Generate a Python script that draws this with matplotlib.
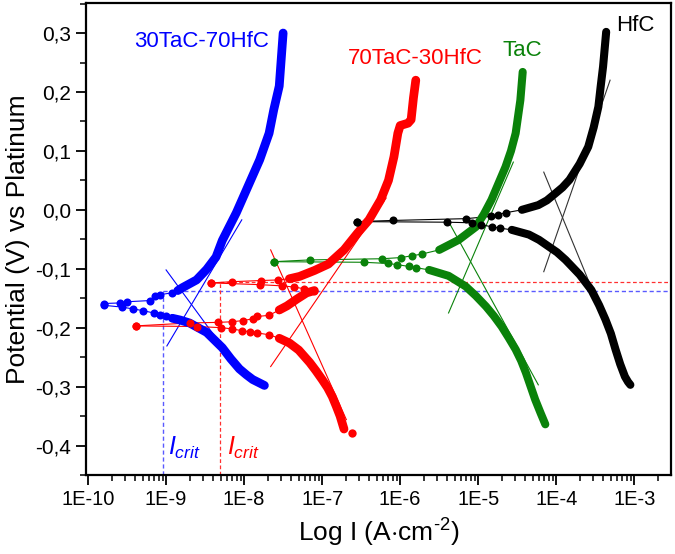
import numpy as np
import matplotlib
matplotlib.use("Agg")
import matplotlib.pyplot as plt
from matplotlib.ticker import FixedLocator, LogLocator, NullFormatter, FuncFormatter

plt.rcParams['font.family'] = ['Liberation Sans', 'DejaVu Sans']
plt.rcParams['mathtext.fontset'] = 'custom'
plt.rcParams['mathtext.rm'] = 'Liberation Sans'
plt.rcParams['mathtext.it'] = 'Liberation Sans:italic'

# ---------------- data (log10 of current density, potential in V) ----------------
# each branch starts at the corrosion point; first n points are sparse dots, rest dense
blue_an_logI = [-9.80, -9.59, -9.50, -9.21, -9.14, -9.08, -8.93, -8.85, -8.79, -8.61, -8.48, -8.36,
                -8.28, -8.10, -7.97, -7.80, -7.68, -7.62, -7.55, -7.50]
blue_an_V = [-0.159, -0.158, -0.156, -0.154, -0.147, -0.144, -0.141, -0.137, -0.132, -0.119, -0.101,
             -0.080, -0.052, -0.005, 0.034, 0.085, 0.130, 0.170, 0.210, 0.300]
blue_an_n = 7
blue_ca_logI = [-9.80, -9.57, -9.43, -9.30, -9.16, -9.08, -9.00, -8.92, -8.82, -8.70, -8.48, -8.28,
                -8.17, -8.06, -7.97, -7.89, -7.74]
blue_ca_V = [-0.162, -0.165, -0.168, -0.171, -0.175, -0.178, -0.181, -0.184, -0.187, -0.192, -0.208,
             -0.234, -0.253, -0.270, -0.280, -0.288, -0.298]
blue_ca_n = 7

red_ca_logI = [-9.39, -8.61, -8.29, -8.16, -8.03, -7.93, -7.83, -7.68, -7.55, -7.42, -7.30, -7.16,
               -7.08, -7.00, -6.93, -6.87, -6.82, -6.77, -6.72]
red_ca_V = [-0.197, -0.198, -0.200, -0.202, -0.205, -0.207, -0.209, -0.212, -0.218, -0.226, -0.238,
            -0.259, -0.273, -0.288, -0.302, -0.317, -0.333, -0.350, -0.372]
red_ca_n = 8
red_end_logI = [-6.62]
red_end_V = [-0.378]
red_an1_logI = [-9.39, -8.70, -8.34, -8.16, -8.02, -7.89, -7.83, -7.68, -7.55, -7.45, -7.33, -7.20, -7.10]
red_an1_V = [-0.197, -0.192, -0.191, -0.190, -0.188, -0.185, -0.181, -0.179, -0.170, -0.163, -0.152,
             -0.141, -0.137]
red_an1_n = 8
red_back_logI = [-7.10, -7.23, -7.36, -7.52, -7.80, -8.42]
red_back_V = [-0.137, -0.134, -0.131, -0.129, -0.127, -0.124]
red_an2_logI = [-8.42, -8.16, -7.79, -7.57, -7.42, -7.29, -7.10, -6.92, -6.72, -6.55, -6.40, -6.25,
                -6.15, -6.08, -6.03, -6.00, -5.90, -5.86, -5.83, -5.80]
red_an2_V = [-0.124, -0.122, -0.120, -0.119, -0.117, -0.113, -0.103, -0.092, -0.068, -0.040, -0.017,
             0.017, 0.050, 0.090, 0.130, 0.143, 0.147, 0.153, 0.190, 0.220]
red_an2_n = 4

green_an_logI = [-7.62, -7.16, -6.23, -5.99, -5.85, -5.72, -5.50, -5.25, -5.03, -4.93, -4.83, -4.74,
                 -4.65, -4.58, -4.52, -4.46, -4.43]
green_an_V = [-0.088, -0.085, -0.083, -0.081, -0.078, -0.075, -0.068, -0.051, -0.029, -0.008, 0.017,
              0.045, 0.073, 0.100, 0.130, 0.186, 0.234]
green_an_n = 6
green_ca_logI = [-7.62, -6.47, -6.16, -6.04, -5.89, -5.80, -5.63, -5.38, -5.16, -5.03, -4.90, -4.80,
                 -4.70, -4.61, -4.52, -4.45, -4.39, -4.33, -4.27, -4.20, -4.14]
green_ca_V = [-0.088, -0.089, -0.091, -0.093, -0.096, -0.098, -0.102, -0.112, -0.130, -0.146, -0.164,
              -0.180, -0.198, -0.217, -0.237, -0.256, -0.276, -0.299, -0.322, -0.345, -0.364]
green_ca_n = 6

black_an_logI = [-6.55, -6.09, -5.16, -4.83, -4.75, -4.65, -4.44, -4.23, -4.12, -4.01, -3.92, -3.83,
                 -3.70, -3.59, -3.52, -3.46, -3.43, -3.40, -3.36]
black_an_V = [-0.020, -0.018, -0.015, -0.011, -0.008, -0.005, 0.000, 0.008, 0.016, 0.028, 0.038,
              0.051, 0.078, 0.107, 0.140, 0.175, 0.210, 0.243, 0.302]
black_an_n = 6
black_ca_logI = [-6.55, -5.40, -5.08, -4.97, -4.82, -4.72, -4.57, -4.35, -4.22, -4.10, -3.99, -3.88,
                 -3.70, -3.55, -3.45, -3.37, -3.30, -3.24, -3.18, -3.12, -3.08, -3.05]
black_ca_V = [-0.020, -0.021, -0.022, -0.025, -0.029, -0.031, -0.034, -0.042, -0.051, -0.062, -0.072,
              -0.085, -0.110, -0.136, -0.162, -0.186, -0.210, -0.237, -0.262, -0.283, -0.292, -0.297]
black_ca_n = 6

# Tafel tangent lines: (logI start, logI end), (V start, V end)
blue_tan_logI = [(-8.99, -8.03), (-9.00, -8.28)]
blue_tan_V = [(-0.231, -0.017), (-0.102, -0.232)]
red_tan_logI = [(-7.66, -6.69), (-7.66, -6.18)]
red_tan_V = [(-0.068, -0.356), (-0.266, 0.020)]
green_tan_logI = [(-5.38, -4.55), (-5.38, -4.23)]
green_tan_V = [(-0.175, 0.081), (-0.020, -0.297)]
black_tan_logI = [(-4.16, -3.17), (-4.16, -3.31)]
black_tan_V = [(0.064, -0.254), (-0.105, 0.220)]

# critical currents / potentials
blue_crit_logI = -9.04
blue_crit_V = -0.1385
red_crit_logI = -8.31
red_crit_V = -0.123

labels = ['30TaC-70HfC', '70TaC-30HfC', 'TaC', 'HfC']
label_logI = [-8.54, -5.81, -4.44, -2.99]
label_V = [0.285, 0.256, 0.270, 0.312]

yticks = [-0.4, -0.3, -0.2, -0.1, 0.0, 0.1, 0.2, 0.3]
xtick_exp = [-10, -9, -8, -7, -6, -5, -4, -3]
xtick_labels = ['1E-10', '1E-9', '1E-8', '1E-7', '1E-6', '1E-5', '1E-4', '1E-3']

# ---------------- figure ----------------
fig = plt.figure(figsize=(6.75, 5.54), dpi=100)
ax = fig.add_axes([0.127, 0.1426, 0.867, 0.852])
ax.set_xscale('log')

BLUE = '#0000ff'
RED = '#ff0000'
GREEN = '#0a820a'
BLACK = '#000000'

def branch(logI, V, n, color, lw_dense=6.3, ms=5.8):
    I = 10.0 ** np.asarray(logI)
    V = np.asarray(V)
    ax.plot(I[:n + 1], V[:n + 1], '-', color=color, lw=0.8, zorder=3)
    ax.plot(I[:n], V[:n], 'o', color=color, ms=ms, mec='none', zorder=4)
    ax.plot(I[n:], V[n:], '-', color=color, lw=lw_dense, solid_capstyle='round',
            solid_joinstyle='round', zorder=4)

def tangents(lI, lV, color):
    for xi, vi in zip(lI, lV):
        ax.plot(10.0 ** np.asarray(xi), vi, '-', color=color, lw=0.8, zorder=2)

branch(blue_an_logI, blue_an_V, blue_an_n, BLUE)
branch(blue_ca_logI, blue_ca_V, blue_ca_n, BLUE)
branch(red_ca_logI, red_ca_V, red_ca_n, RED)
ax.plot(10.0 ** np.asarray(red_end_logI), red_end_V, 'o', color=RED, ms=6, mec='none', zorder=4)
branch(red_an1_logI, red_an1_V, red_an1_n, RED)
branch(red_back_logI, red_back_V, len(red_back_logI), RED)
branch(red_an2_logI, red_an2_V, red_an2_n, RED)
branch(green_an_logI, green_an_V, green_an_n, GREEN, lw_dense=5.8)
branch(green_ca_logI, green_ca_V, green_ca_n, GREEN, lw_dense=5.8)
branch(black_an_logI, black_an_V, black_an_n, BLACK, lw_dense=5.8)
branch(black_ca_logI, black_ca_V, black_ca_n, BLACK, lw_dense=5.8)

tangents(blue_tan_logI, blue_tan_V, BLUE)
tangents(red_tan_logI, red_tan_V, RED)
tangents(green_tan_logI, green_tan_V, GREEN)
tangents(black_tan_logI, black_tan_V, '#333333')

xmin, xmax = 10 ** -10.03, 10 ** -2.53
ymin, ymax = -0.45, 0.351
ax.set_xlim(xmin, xmax)
ax.set_ylim(ymin, ymax)

# dashed critical lines
ax.plot([10 ** blue_crit_logI, 10 ** blue_crit_logI], [ymin, blue_crit_V], '--', color='#5a5aff',
        lw=1.0, dashes=(3, 2), zorder=1)
ax.plot([10 ** blue_crit_logI, xmax], [blue_crit_V, blue_crit_V], '--', color='#5a5aff',
        lw=1.0, dashes=(3, 2), zorder=1)
ax.plot([10 ** red_crit_logI, 10 ** red_crit_logI], [ymin, red_crit_V], '--', color='#ff3030',
        lw=0.9, dashes=(3, 2), zorder=1)
ax.plot([10 ** red_crit_logI, xmax], [red_crit_V, red_crit_V], '--', color='#ff3030',
        lw=0.9, dashes=(3, 2), zorder=1)

ax.text(10 ** (blue_crit_logI + 0.07), -0.415, r'$I_{crit}$', color=BLUE, fontsize=18,
        ha='left', va='baseline')
ax.text(10 ** (red_crit_logI + 0.09), -0.415, r'$I_{crit}$', color=RED, fontsize=18,
        ha='left', va='baseline')

for lab, lx, lv, c in zip(labels, label_logI, label_V, [BLUE, RED, GREEN, BLACK]):
    ax.text(10 ** lx, lv, lab, color=c, fontsize=16, ha='center', va='center')

# axes styling
ax.yaxis.set_major_locator(FixedLocator(yticks))
ax.yaxis.set_minor_locator(FixedLocator([v + 0.05 for v in yticks] + [-0.45]))
ax.yaxis.set_major_formatter(FuncFormatter(lambda v, p: ('%.1f' % v).replace('.', ',')))
ax.xaxis.set_major_locator(FixedLocator([10.0 ** e for e in xtick_exp]))
ax.set_xticklabels(xtick_labels)
ax.xaxis.set_minor_locator(LogLocator(base=10, subs=np.arange(2, 10), numticks=20))
ax.xaxis.set_minor_formatter(NullFormatter())

ax.tick_params(axis='both', which='major', direction='out', length=7, width=1.3,
               labelsize=14.5, top=False, right=False)
ax.tick_params(axis='both', which='minor', direction='out', length=4, width=1.1,
               top=False, right=False)
ax.tick_params(axis='y', which='major', labelsize=15)
for s in ax.spines.values():
    s.set_linewidth(1.6)

ax.set_xlabel(r'Log I (A$\cdot$cm$^{\text{-2}}$)', fontsize=19, labelpad=6)
ax.set_ylabel('Potential (V) vs Platinum', fontsize=19, labelpad=4)

fig.savefig('out.png', dpi=100)
